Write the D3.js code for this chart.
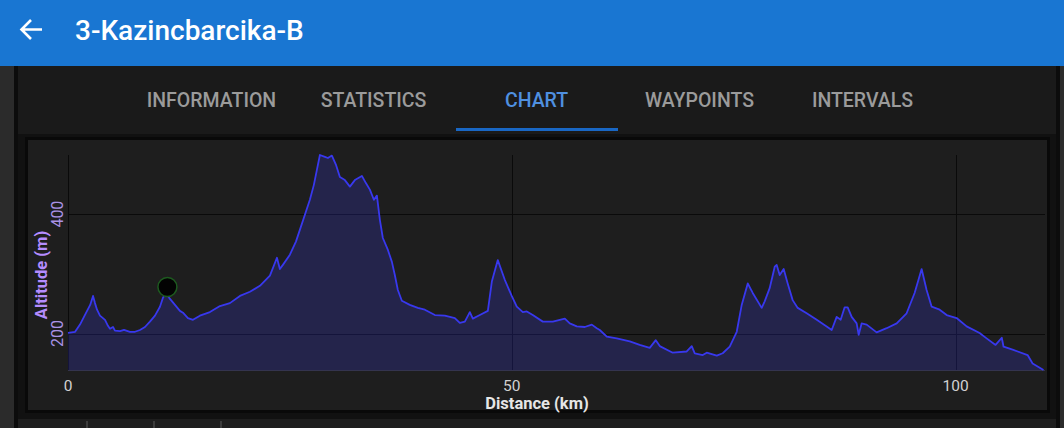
<!DOCTYPE html>
<html>
<head>
<meta charset="utf-8">
<script src="https://cdn.jsdelivr.net/npm/d3@7"></script>
<style>
  html, body { margin: 0; padding: 0; background: #181818; overflow: hidden; }
  svg { display: block; font-family: Roboto, "Noto Sans", sans-serif; }
</style>
</head>
<body>
<svg id="screen" width="1064" height="428"></svg>
<script>
// elevation profile: distance (km) / altitude (m)
const distKm = [0, 0.8, 1.35, 1.9, 2.5, 2.82, 3.04, 3.27, 3.6, 4.17, 4.5, 4.73, 5.07, 5.29, 5.86, 6.31, 6.98, 7.55, 8.11, 8.67,
  9.23, 9.8, 10.36, 10.7, 11.04, 11.49, 12.05, 12.61, 12.95, 13.51, 14.08, 14.86, 15.99, 17.12, 18.24, 19.37, 20.5, 21.62, 22.75, 23.54,
  23.87, 24.21, 25.0, 25.68, 26.13, 26.69, 27.25, 27.7, 28.04, 28.38, 28.94, 29.28, 29.73, 30.18, 30.63, 31.19, 31.76, 32.32, 33.11, 33.56,
  34.01, 34.46, 34.8, 35.14, 35.47, 36.04, 36.49, 36.82, 37.16, 37.61, 38.51, 39.41, 40.2, 41.33, 42.45, 43.58, 44.14, 44.71, 45.27, 45.61,
  46.4, 47.3, 47.75, 48.42, 49.21, 49.99, 50.56, 51.24, 51.69, 52.36, 53.49, 54.62, 55.97, 56.53, 57.32, 58.22, 59.01, 59.57, 59.91, 60.7,
  61.82, 63.29, 64.41, 65.54, 66.22, 66.67, 68.13, 69.71, 70.27, 70.61, 71.51, 71.96, 73.09, 73.76, 74.55, 75.34, 75.9, 76.58, 77.14, 78.15,
  78.49, 79.05, 79.62, 79.84, 80.18, 80.63, 81.08, 81.64, 82.21, 83.22, 84.35, 85.47, 86.04, 86.6, 87.05, 87.5, 87.84, 88.29, 88.85, 89.08,
  89.41, 89.98, 91.1, 92.23, 93.36, 94.48, 95.38, 96.17, 96.73, 97.3, 98.2, 98.99, 100.11, 101.24, 102.7, 103.49, 104.5, 105.2, 105.4, 106.42,
  108.11, 108.67, 109.9];
const altM = [201, 203, 215, 231, 248, 263, 251, 240, 230, 223, 213, 208, 211, 205, 204, 206, 203, 203, 206, 211,
  220, 230, 245, 260, 268, 258, 248, 238, 235, 226, 223, 230, 236, 246, 251, 263, 270, 280, 297, 327,
  308, 315, 332, 354, 374, 399, 424, 449, 474, 499, 496, 494, 498, 483, 462, 457, 446, 457, 464, 452,
  441, 424, 431, 390, 360, 340, 320, 298, 273, 255, 248, 243, 240, 231, 230, 226, 218, 220, 236, 225,
  231, 238, 287, 323, 290, 263, 245, 236, 237, 231, 220, 220, 225, 217, 212, 211, 215, 209, 206, 195,
  192, 187, 181, 176, 189, 179, 168, 170, 179, 167, 164, 168, 163, 167, 178, 203, 248, 284, 268, 243,
  254, 276, 312, 315, 298, 308, 284, 256, 243, 234, 223, 212, 206, 228, 223, 244, 244, 228, 217, 198,
  217, 215, 202, 209, 217, 234, 268, 308, 273, 245, 240, 231, 226, 212, 201, 192, 181, 193, 178, 173,
  164, 150, 139];

// current position marker
const markerKm = [11.2];
const markerAlt = [278];

const xTicks = [0, 50, 100];
const yTicks = [200, 400];
const tabs = ["INFORMATION", "STATISTICS", "CHART", "WAYPOINTS", "INTERVALS"];
const tabCenters = [211.5, 373.5, 536.5, 699.5, 862.5];
const activeTab = "CHART";
const title = "3-Kazincbarcika-B";

const profile = distKm.map((d, i) => ({ km: d, alt: altM[i] }));

const svg = d3.select("#screen");

// frame of the app
svg.append("rect").attr("x", 0).attr("y", 0).attr("width", 1064).attr("height", 428).attr("fill", "#1a1a1a");
svg.append("rect").attr("x", 0).attr("y", 66).attr("width", 14).attr("height", 362).attr("fill", "#2b2b2b");
svg.append("rect").attr("x", 14).attr("y", 66).attr("width", 4).attr("height", 362).attr("fill", "#0c0c0c");
svg.append("rect").attr("x", 1060).attr("y", 66).attr("width", 4).attr("height", 362).attr("fill", "#2b2b2b");
svg.append("rect").attr("x", 1056).attr("y", 66).attr("width", 4).attr("height", 362).attr("fill", "#0c0c0c");

// app bar
svg.append("rect").attr("x", 0).attr("y", 0).attr("width", 1064).attr("height", 66).attr("fill", "#1976d2");
svg.append("path")
    .attr("d", "M42,29.5H22M31,20L21.5,29.5L31,39")
    .attr("fill", "none").attr("stroke", "#ffffff").attr("stroke-width", 2.6);
svg.append("text")
    .attr("x", 75).attr("y", 40)
    .attr("fill", "#ffffff")
    .style("font-size", "28px").style("font-weight", 500)
    .text(title);

// tabs
svg.selectAll(".tab")
    .data(tabs)
    .join("text")
    .attr("class", "tab")
    .attr("x", (d, i) => tabCenters[i])
    .attr("y", 107)
    .attr("text-anchor", "middle")
    .attr("fill", d => d === activeTab ? "#4f90e0" : "#9b9b9b")
    .style("font-size", "19.5px").style("font-weight", 500)
    .text(d => d);
svg.append("rect").attr("x", 456).attr("y", 128).attr("width", 162).attr("height", 3).attr("fill", "#1967c4");

// chart panel
svg.append("rect").attr("x", 18).attr("y", 134).attr("width", 1038).attr("height", 294).attr("fill", "#111111");
svg.append("rect").attr("x", 26.5).attr("y", 138.5).attr("width", 1022).attr("height", 273)
    .attr("fill", "#1e1e1e").attr("stroke", "#090909").attr("stroke-width", 3);
svg.append("rect").attr("x", 18).attr("y", 419).attr("width", 1038).attr("height", 9).attr("fill", "#1e1e1e");
[87, 154, 221].forEach(x => svg.append("line")
    .attr("x1", x).attr("x2", x).attr("y1", 421).attr("y2", 428)
    .attr("stroke", "#5a5a5a").attr("stroke-width", 1));

// scales
const x = d3.scaleLinear().domain([0, d3.max(distKm)]).range([68, 1043.5]);
const y = d3.scaleLinear().domain(d3.extent(altM)).range([370, 155]);

const plot = svg.append("g");

// grid
plot.selectAll(".hgrid")
    .data(yTicks)
    .join("line")
    .attr("x1", 68).attr("x2", 1045)
    .attr("y1", d => Math.round(y(d)) + 0.5).attr("y2", d => Math.round(y(d)) + 0.5)
    .attr("stroke", "#0a0a0a").attr("stroke-width", 1);
plot.selectAll(".vgrid")
    .data(xTicks)
    .join("line")
    .attr("x1", d => Math.round(x(d)) + 0.5).attr("x2", d => Math.round(x(d)) + 0.5)
    .attr("y1", 155).attr("y2", 370)
    .attr("stroke", "#0a0a0a").attr("stroke-width", 1);

// area + line
const area = d3.area()
    .x(d => x(d.km))
    .y0(370)
    .y1(d => y(d.alt));
const line = d3.line()
    .x(d => x(d.km))
    .y(d => y(d.alt));

plot.append("path")
    .datum(profile)
    .attr("d", area)
    .attr("fill", "rgba(62, 62, 255, 0.2)");
plot.append("line")
    .attr("x1", 68).attr("x2", 1045).attr("y1", 370.5).attr("y2", 370.5)
    .attr("stroke", "#34344e").attr("stroke-width", 1);
plot.append("path")
    .datum(profile)
    .attr("d", line)
    .attr("fill", "none")
    .attr("stroke", "#3838ee")
    .attr("stroke-width", 1.8)
    .attr("stroke-linejoin", "round");

// position marker
plot.selectAll(".marker")
    .data(markerKm)
    .join("circle")
    .attr("cx", d => x(d))
    .attr("cy", (d, i) => y(markerAlt[i]))
    .attr("r", 9.5)
    .attr("fill", "#030303")
    .attr("stroke", "#1d5a1f")
    .attr("stroke-width", 1.5);

// x axis labels
plot.selectAll(".xlab")
    .data(xTicks)
    .join("text")
    .attr("x", d => x(d))
    .attr("y", 391)
    .attr("text-anchor", "middle")
    .attr("fill", "#d2d2d2")
    .style("font-size", "15.5px")
    .text(d => d);
svg.append("text")
    .attr("x", 537).attr("y", 409)
    .attr("text-anchor", "middle")
    .attr("fill", "#e6e6e6")
    .style("font-size", "16.5px").style("font-weight", 700)
    .text("Distance (km)");

// y axis labels (rotated)
plot.selectAll(".ylab")
    .data(yTicks)
    .join("text")
    .attr("transform", d => `translate(63,${y(d)}) rotate(-90)`)
    .attr("text-anchor", "middle")
    .attr("fill", "#a992e6")
    .style("font-size", "16px")
    .text(d => d);
svg.append("text")
    .attr("transform", "translate(47,275) rotate(-90)")
    .attr("text-anchor", "middle")
    .attr("fill", "#b48cff")
    .style("font-size", "16.5px").style("font-weight", 700)
    .text("Altitude (m)");
</script>
</body>
</html>
